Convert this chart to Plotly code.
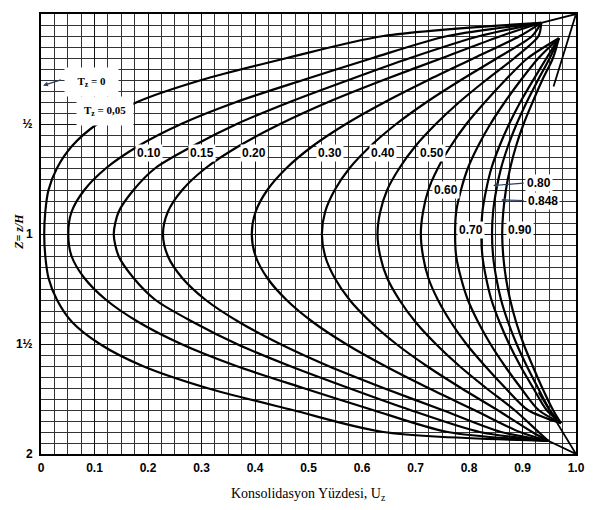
import plotly.graph_objects as go

# Depth ratio Z = z/H (0 at top, 2 at bottom)
Z_A = [0.04, 0.1, 0.2, 0.3, 0.4, 0.5, 0.6, 0.7, 0.8, 0.9, 1.0,
       1.1, 1.2, 1.3, 1.4, 1.5, 1.6, 1.7, 1.8, 1.9, 1.94]
Z_B = [0.11, 0.2, 0.3, 0.4, 0.5, 0.6, 0.7, 0.8, 0.9, 1.0,
       1.1, 1.2, 1.3, 1.4, 1.5, 1.6, 1.7, 1.8, 1.86]

# Degree of consolidation U_z read for each time factor T_z
U_005 = [0.935, 0.64, 0.46, 0.30, 0.18, 0.105, 0.058, 0.03, 0.014, 0.008, 0.006,
         0.008, 0.014, 0.03, 0.058, 0.11, 0.19, 0.31, 0.47, 0.64, 0.948]
U_010 = [0.935, 0.76, 0.62, 0.49, 0.365, 0.262, 0.182, 0.122, 0.081, 0.057, 0.051,
         0.057, 0.081, 0.122, 0.182, 0.262, 0.365, 0.49, 0.62, 0.76, 0.948]
U_015 = [0.935, 0.82, 0.69, 0.575, 0.465, 0.366, 0.284, 0.214, 0.173, 0.145, 0.136,
         0.145, 0.173, 0.214, 0.284, 0.366, 0.465, 0.575, 0.69, 0.82, 0.948]
U_020 = [0.935, 0.86, 0.75, 0.64, 0.537, 0.447, 0.370, 0.308, 0.264, 0.237, 0.228,
         0.237, 0.264, 0.308, 0.370, 0.447, 0.537, 0.64, 0.75, 0.86, 0.948]
U_030 = [0.935, 0.895, 0.81, 0.724, 0.643, 0.570, 0.508, 0.459, 0.423, 0.401, 0.394,
         0.401, 0.423, 0.459, 0.508, 0.570, 0.643, 0.724, 0.81, 0.895, 0.948]
U_040 = [0.935, 0.918, 0.853, 0.785, 0.721, 0.664, 0.616, 0.577, 0.549, 0.531, 0.525,
         0.531, 0.549, 0.577, 0.616, 0.664, 0.721, 0.785, 0.853, 0.918, 0.948]
U_050 = [0.935, 0.93, 0.885, 0.832, 0.782, 0.738, 0.700, 0.670, 0.647, 0.634, 0.629,
         0.634, 0.647, 0.670, 0.700, 0.738, 0.782, 0.832, 0.885, 0.93, 0.948]
U_060 = [0.968, 0.910, 0.868, 0.830, 0.795, 0.766, 0.742, 0.724, 0.714, 0.710,
         0.714, 0.724, 0.742, 0.766, 0.795, 0.830, 0.868, 0.910, 0.972]
U_070 = [0.968, 0.930, 0.897, 0.867, 0.840, 0.817, 0.798, 0.785, 0.776, 0.774,
         0.776, 0.785, 0.798, 0.817, 0.840, 0.867, 0.897, 0.930, 0.972]
U_080 = [0.968, 0.945, 0.920, 0.896, 0.875, 0.857, 0.842, 0.832, 0.825, 0.823,
         0.825, 0.832, 0.842, 0.857, 0.875, 0.896, 0.920, 0.945, 0.972]
U_0848 = [0.968, 0.951, 0.929, 0.908, 0.889, 0.873, 0.860, 0.851, 0.845, 0.843,
          0.845, 0.851, 0.860, 0.873, 0.889, 0.908, 0.929, 0.951, 0.972]
U_090 = [0.968, 0.957, 0.937, 0.919, 0.902, 0.888, 0.877, 0.869, 0.864, 0.862,
         0.864, 0.869, 0.877, 0.888, 0.902, 0.919, 0.937, 0.957, 0.972]

# Extra straight strokes drawn to the right-hand corners
CORNER_TOP_U = [0.935, 1.0, 0.958]
CORNER_TOP_Z = [0.04, 0.0, 0.33]
CORNER_BOT_U = [0.948, 1.0, 0.93]
CORNER_BOT_Z = [1.94, 2.0, 1.72]

X_TICKS = [0, 0.1, 0.2, 0.3, 0.4, 0.5, 0.6, 0.7, 0.8, 0.9, 1.0]
X_TICK_TEXT = ["0", "0.1", "0.2", "0.3", "0.4", "0.5", "0.6", "0.7", "0.8", "0.9", "1.0"]
Y_TICKS = [0, 0.5, 1, 1.5, 2]
Y_TICK_TEXT = ["0", "½", "1", "1½", "2"]

# Curve labels: text, U, Z
LABELS = [("0.10", 0.202, 0.632), ("0.15", 0.301, 0.632), ("0.20", 0.398, 0.632),
          ("0.30", 0.540, 0.632), ("0.40", 0.639, 0.632), ("0.50", 0.731, 0.632),
          ("0.60", 0.757, 0.80), ("0.70", 0.804, 0.982), ("0.90", 0.895, 0.982)]

fig = go.Figure()
line = dict(color="black", width=2.2, shape="spline", smoothing=0.8)
for u in [U_005, U_010, U_015, U_020, U_030, U_040, U_050]:
    fig.add_trace(go.Scatter(x=u, y=Z_A, mode="lines", line=line, hoverinfo="skip"))
for u in [U_060, U_070, U_080, U_0848, U_090]:
    fig.add_trace(go.Scatter(x=u, y=Z_B, mode="lines", line=line, hoverinfo="skip"))
for uu, zz in [(CORNER_TOP_U, CORNER_TOP_Z), (CORNER_BOT_U, CORNER_BOT_Z)]:
    fig.add_trace(go.Scatter(x=uu, y=zz, mode="lines",
                             line=dict(color="black", width=1.8), hoverinfo="skip"))

lab_font = dict(family="Liberation Sans", size=12, color="black")
for t, u, z in LABELS:
    fig.add_annotation(x=u, y=z, text="<b>%s</b>" % t, showarrow=False,
                       bgcolor="white", font=lab_font, borderpad=1)

# leader-line labels
fig.add_annotation(x=0.845, y=0.78, ax=0.905, ay=0.768, axref="x", ayref="y",
                   text="", showarrow=True, arrowhead=2, arrowsize=0.8, arrowwidth=1.2)
fig.add_annotation(x=0.93, y=0.768, text="<b>0.80</b>", showarrow=False,
                   bgcolor="white", font=lab_font, borderpad=1)
fig.add_annotation(x=0.86, y=0.845, ax=0.905, ay=0.848, axref="x", ayref="y",
                   text="", showarrow=True, arrowhead=2, arrowsize=0.8, arrowwidth=1.2)
fig.add_annotation(x=0.938, y=0.85, text="<b>0.848</b>", showarrow=False,
                   bgcolor="white", font=lab_font, borderpad=1)

ser = dict(family="Liberation Serif", size=11, color="black")
fig.add_annotation(x=0.094, y=0.311, text="&nbsp;&nbsp;<b>T<sub>z</sub> = 0</b>&nbsp;&nbsp;",
                   showarrow=False, bgcolor="white", font=ser, borderpad=7)
fig.add_annotation(x=0.004, y=0.325, ax=0.04, ay=0.297, axref="x", ayref="y",
                   text="", showarrow=True, arrowhead=2, arrowsize=0.8, arrowwidth=1.2)
fig.add_annotation(x=0.12, y=0.443, text="<b>T<sub>z</sub> = 0,05</b>",
                   showarrow=False, bgcolor="white", font=ser, borderpad=7)

# axis titles
fig.add_annotation(x=-0.041, y=0.99, xref="paper", yref="y",
                   xanchor="center", yanchor="middle",
                   text="<b><i>Z= z/H</i></b>", textangle=-90, showarrow=False,
                   font=dict(family="Liberation Serif", size=12, color="black"))
fig.add_annotation(x=0.5, y=-0.115, xref="paper", yref="paper",
                   text="Konsolidasyon Yüzdesi, U<sub>z</sub>", showarrow=False,
                   font=dict(family="Liberation Serif", size=14, color="black"))

fig.update_xaxes(range=[0, 1.0], tickvals=X_TICKS, automargin=False,
                 ticktext=["<b>%s</b>" % t for t in X_TICK_TEXT],
                 tickfont=dict(family="Liberation Sans", size=12, color="black"),
                 showgrid=True, gridcolor="#111", gridwidth=1.4,
                 minor=dict(dtick=0.025, showgrid=True, gridcolor="#333", gridwidth=1),
                 showline=True, linecolor="black", linewidth=2, mirror=True,
                 zeroline=False, ticks="", ticklabelstandoff=2)
fig.update_yaxes(range=[2, 0], tickvals=Y_TICKS, automargin=False,
                 ticktext=["<b>%s</b>" % t for t in Y_TICK_TEXT],
                 tickfont=dict(family="Liberation Sans", size=12, color="black"),
                 showgrid=True, gridcolor="#111", gridwidth=1.4,
                 minor=dict(dtick=0.05, showgrid=True, gridcolor="#333", gridwidth=1),
                 showline=True, linecolor="black", linewidth=2, mirror=True,
                 zeroline=False, ticks="", ticklabelstandoff=4)

fig.update_layout(width=600, height=510, showlegend=False,
                  paper_bgcolor="white", plot_bgcolor="white",
                  margin=dict(l=33, r=32, t=6, b=64))

fig.write_html("out.html")
